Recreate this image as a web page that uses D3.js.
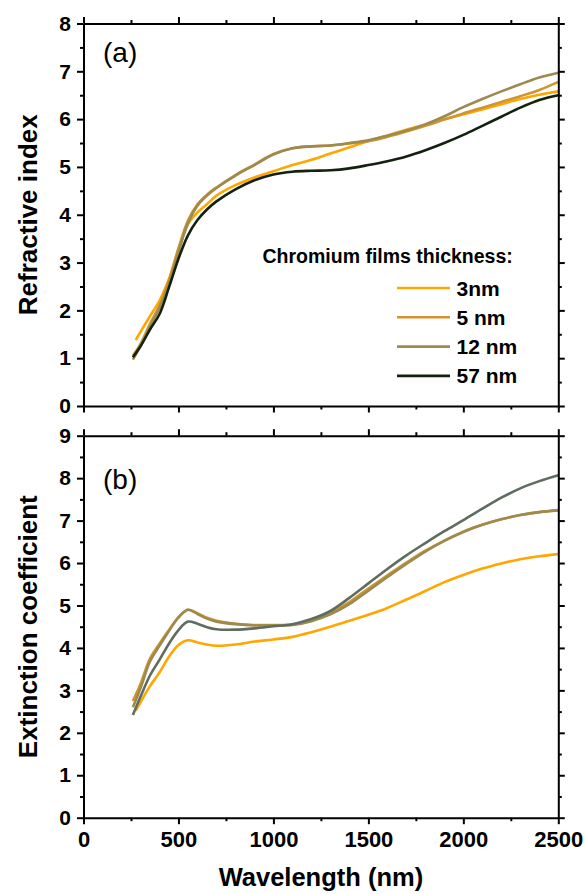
<!DOCTYPE html>
<html>
<head>
<meta charset="utf-8">
<script src="https://cdn.jsdelivr.net/npm/d3@7"></script>
<style>
  body { margin: 0; background: #fff; }
  svg { display: block; font-family: "Liberation Sans", Arial, sans-serif; }
</style>
</head>
<body>
<div id="chart"></div>
<script>
// wavelength grid (nm)
const wavelength = [260, 300, 350, 400, 450, 500, 550, 600, 650, 700, 800, 900, 1000, 1100,
  1200, 1300, 1400, 1500, 1600, 1700, 1800, 1900, 2000, 2100, 2200, 2300, 2400, 2500];
const wavelength3nm = [275, 300, 350, 400, 450, 500, 550, 600, 650, 700, 800, 900, 1000, 1100,
  1200, 1300, 1400, 1500, 1600, 1700, 1800, 1900, 2000, 2100, 2200, 2300, 2400, 2500];

const seriesNames = ["3nm", "5 nm", "12 nm", "57 nm"];

// (a) refractive index
const n3 = [1.38, 1.55, 1.88, 2.20, 2.66, 3.28, 3.80, 4.05, 4.22, 4.40, 4.62, 4.78, 4.91, 5.04,
  5.15, 5.28, 5.41, 5.54, 5.66, 5.78, 5.89, 6.00, 6.10, 6.20, 6.31, 6.42, 6.51, 6.58];
const n5 = [1.05, 1.30, 1.72, 2.10, 2.62, 3.30, 3.88, 4.22, 4.42, 4.57, 4.83, 5.05, 5.27, 5.39,
  5.43, 5.45, 5.49, 5.54, 5.63, 5.74, 5.86, 5.99, 6.12, 6.24, 6.36, 6.48, 6.61, 6.78];
const n12 = [0.97, 1.25, 1.66, 2.05, 2.56, 3.22, 3.82, 4.19, 4.40, 4.56, 4.82, 5.04, 5.26, 5.39,
  5.43, 5.45, 5.50, 5.56, 5.65, 5.76, 5.89, 6.06, 6.25, 6.42, 6.58, 6.73, 6.87, 6.97];
const n57 = [1.02, 1.25, 1.60, 1.92, 2.48, 3.08, 3.57, 3.89, 4.11, 4.28, 4.53, 4.72, 4.84, 4.90,
  4.92, 4.93, 4.97, 5.04, 5.12, 5.22, 5.35, 5.50, 5.67, 5.86, 6.05, 6.24, 6.40, 6.50];

// (b) extinction coefficient
const k3 = [2.52, 2.72, 3.10, 3.42, 3.79, 4.07, 4.18, 4.13, 4.08, 4.05, 4.08, 4.15, 4.20, 4.26,
  4.37, 4.50, 4.64, 4.78, 4.94, 5.14, 5.34, 5.55, 5.72, 5.87, 5.99, 6.09, 6.16, 6.21];
const k5 = [2.75, 3.15, 3.75, 4.10, 4.42, 4.72, 4.90, 4.82, 4.71, 4.64, 4.57, 4.54, 4.54, 4.55,
  4.66, 4.83, 5.08, 5.40, 5.71, 6.01, 6.29, 6.53, 6.74, 6.90, 7.03, 7.13, 7.20, 7.25];
const k12 = [2.60, 3.05, 3.68, 4.05, 4.40, 4.72, 4.90, 4.80, 4.69, 4.62, 4.56, 4.53, 4.53, 4.54,
  4.63, 4.79, 5.03, 5.35, 5.67, 5.98, 6.27, 6.52, 6.73, 6.90, 7.03, 7.13, 7.20, 7.24];
const k57 = [2.42, 2.85, 3.35, 3.72, 4.10, 4.42, 4.62, 4.57, 4.49, 4.44, 4.43, 4.46, 4.51, 4.56,
  4.68, 4.87, 5.18, 5.52, 5.86, 6.18, 6.47, 6.75, 7.01, 7.28, 7.54, 7.76, 7.93, 8.07];

const xTicks = [0, 500, 1000, 1500, 2000, 2500];
const nTicks = [0, 1, 2, 3, 4, 5, 6, 7, 8];
const kTicks = [0, 1, 2, 3, 4, 5, 6, 7, 8, 9];

const colorsTop = ["#ffa600", "#d0952e", "#9c8a50", "#13220f"];
const colorsBot = ["#ffa600", "#d0952e", "#9c8a50", "#5e6d60"];

const width = 586, height = 894;
const left = 83.5, right = 558.3;

const svg = d3.select("#chart").append("svg")
  .attr("width", width)
  .attr("height", height);

const x = d3.scaleLinear().domain([0, 2500]).range([left, right]);
const yTop = d3.scaleLinear().domain([0, 8]).range([406, 23.5]);
const yBot = d3.scaleLinear().domain([0, 9]).range([817.7, 435.7]);

function minorTicks(major) {
  const out = [];
  for (let i = 0; i < major.length - 1; i++) out.push((major[i] + major[i + 1]) / 2);
  return out;
}

function drawPanel(y, yTicks, series, colors, showX) {
  const g = svg.append("g");
  const y0 = y.range()[1], y1 = y.range()[0];
  const yMinor = minorTicks(yTicks);
  const xMinor = minorTicks(xTicks);

  const line = d3.line()
    .x(d => x(d[0]))
    .y(d => y(d[1]))
    .curve(d3.curveCatmullRom.alpha(0.5));

  series.forEach((s, i) => {
    g.append("path")
      .datum(s.wl.map((w, j) => [w, s.v[j]]))
      .attr("fill", "none")
      .attr("stroke", colors[i])
      .attr("stroke-width", 2.6)
      .attr("stroke-linejoin", "round")
      .attr("d", line);
  });

  const axes = [
    [d3.axisLeft(y), yTicks, yMinor, `translate(${left},0)`, true],
    [d3.axisRight(y), yTicks, yMinor, `translate(${right},0)`, false],
    [d3.axisTop(x), xTicks, xMinor, `translate(0,${y0})`, false],
    [d3.axisBottom(x), xTicks, xMinor, `translate(0,${y1})`, showX]
  ];
  axes.forEach(([ax, maj, min, tr, labels]) => {
    const isX = maj === xTicks;
    g.append("g").attr("transform", tr)
      .call(ax.tickValues(min).tickSize(3.5).tickSizeOuter(0).tickFormat(""))
      .call(a => a.select(".domain").remove());
    const a = g.append("g").attr("transform", tr)
      .call(ax.tickValues(maj).tickSize(6.5).tickSizeOuter(0)
        .tickPadding(isX ? 7.5 : 6)
        .tickFormat(labels ? d3.format("d") : ""));
    a.selectAll("text")
      .attr("font-size", isX ? 22 : 21)
      .attr("font-weight", "bold")
      .attr("fill", "#000");
  });
  g.selectAll(".domain, .tick line")
    .attr("stroke", "#000")
    .attr("stroke-width", 2);
  return g;
}

const panelA = drawPanel(yTop, nTicks, [
  { wl: wavelength3nm, v: n3 },
  { wl: wavelength, v: n5 },
  { wl: wavelength, v: n12 },
  { wl: wavelength, v: n57 }
], colorsTop, false);

const panelB = drawPanel(yBot, kTicks, [
  { wl: wavelength3nm, v: k3 },
  { wl: wavelength, v: k5 },
  { wl: wavelength, v: k12 },
  { wl: wavelength, v: k57 }
], colorsBot, true);

// panel labels
svg.append("text").attr("x", 103).attr("y", 62)
  .attr("font-size", 28).text("(a)");
svg.append("text").attr("x", 103).attr("y", 489)
  .attr("font-size", 28).text("(b)");

// axis titles
svg.append("text")
  .attr("transform", `translate(36.5,${(yTop.range()[0] + yTop.range()[1]) / 2}) rotate(-90)`)
  .attr("text-anchor", "middle")
  .attr("font-size", 26).attr("font-weight", "bold")
  .text("Refractive index");
svg.append("text")
  .attr("transform", `translate(36.5,${(yBot.range()[0] + yBot.range()[1]) / 2}) rotate(-90)`)
  .attr("text-anchor", "middle")
  .attr("font-size", 26).attr("font-weight", "bold")
  .text("Extinction coefficient");
svg.append("text")
  .attr("x", (left + right) / 2).attr("y", 886)
  .attr("text-anchor", "middle")
  .attr("font-size", 25.5).attr("font-weight", "bold")
  .text("Wavelength (nm)");

// legend
const legend = svg.append("g");
legend.append("text")
  .attr("x", 262.5).attr("y", 262.5)
  .attr("font-size", 19.5).attr("font-weight", "bold")
  .text("Chromium films thickness:");
seriesNames.forEach((name, i) => {
  const ly = 288 + i * 29.3;
  legend.append("line")
    .attr("x1", 397).attr("x2", 450)
    .attr("y1", ly).attr("y2", ly)
    .attr("stroke", colorsTop[i]).attr("stroke-width", 2.6);
  legend.append("text")
    .attr("x", 456.5).attr("y", ly + 7.5)
    .attr("font-size", 21).attr("font-weight", "bold")
    .text(name);
});
</script>
</body>
</html>
